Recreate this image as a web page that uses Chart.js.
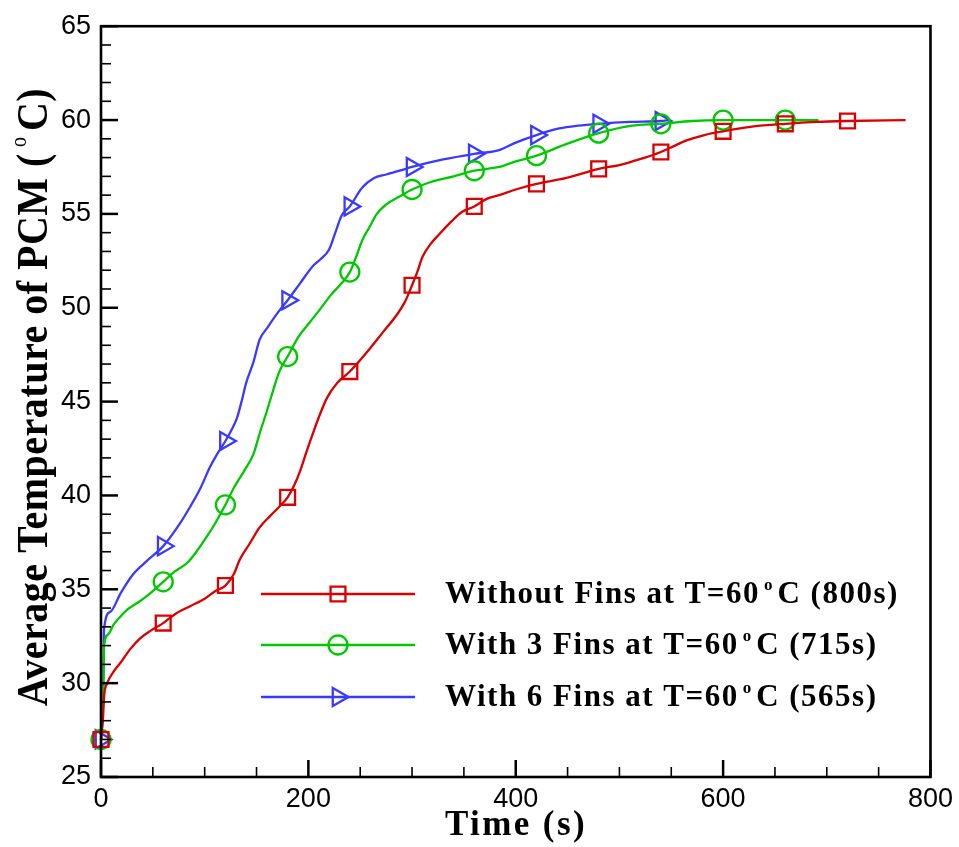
<!DOCTYPE html>
<html>
<head>
<meta charset="utf-8">
<title>Average Temperature of PCM</title>
<script src="https://cdn.jsdelivr.net/npm/chart.js@4.4.1/dist/chart.umd.min.js"></script>
<style>
  html, body { margin: 0; padding: 0; background: #ffffff; }
  #wrap { width: 959px; height: 847px; }
  canvas { display: block; }
</style>
</head>
<body>
<div id="wrap"><canvas id="chart" width="959" height="847" style="width:959px;height:847px"></canvas></div>
<script>
// Average PCM temperature (deg C) against time (s), one curve per fin layout.
const timeNoFins = [0, 2, 3, 6, 12, 19, 28, 38, 48, 60, 72, 86, 100, 110, 120, 128, 134, 143, 153, 163, 172, 180,
  186, 192, 198, 205, 211, 218, 228, 240, 256, 272, 285, 293, 300, 305, 310, 318, 326, 338, 348, 360, 372, 384,
  400, 420, 448, 480, 500, 519, 540, 552, 564, 582, 600, 628, 660, 690, 720, 776];
const tempNoFins = [27, 28.2, 29.3, 30.0, 30.6, 31.1, 31.8, 32.4, 32.8, 33.2, 33.7, 34.1, 34.5, 34.9, 35.2, 35.8,
  36.6, 37.4, 38.3, 38.9, 39.4, 39.9, 40.5, 41.3, 42.3, 43.4, 44.3, 45.2, 46.0, 46.6, 47.6, 48.7, 49.6, 50.3, 51.2,
  51.9, 52.7, 53.4, 53.9, 54.6, 55.1, 55.4, 55.8, 56.0, 56.3, 56.6, 56.9, 57.4, 57.6, 57.9, 58.3, 58.6, 58.9, 59.2,
  59.4, 59.65, 59.8, 59.9, 59.95, 60];

const time3Fins = [0, 2, 3, 7, 12, 18, 25, 33, 41, 50, 60, 70, 83, 92, 102, 111, 120, 128, 138, 147, 153, 160, 166,
  172, 180, 191, 201, 211, 222, 232, 240, 246, 252, 259, 266, 275, 287, 300, 318, 340, 360, 384, 400, 420, 448, 480,
  512, 540, 570, 600, 660, 692];
const temp3Fins = [27, 29.0, 32.0, 32.6, 33.1, 33.5, 33.9, 34.2, 34.5, 34.9, 35.4, 35.9, 36.4, 37.0, 37.8, 38.6, 39.5,
  40.4, 41.3, 42.2, 43.3, 44.5, 45.6, 46.6, 47.4, 48.5, 49.2, 49.9, 50.7, 51.3, 51.9, 52.7, 53.6, 54.3, 55.0, 55.5,
  55.9, 56.3, 56.7, 57.0, 57.3, 57.5, 57.8, 58.1, 58.7, 59.3, 59.7, 59.8, 59.95, 60, 60, 60];

const time6Fins = [0, 2, 3, 9, 19, 31, 44, 60, 76, 86, 96, 105, 112, 120, 126, 131, 136, 140, 147, 153, 160, 170, 180,
  192, 204, 212, 220, 226, 232, 240, 252, 263, 275, 288, 300, 330, 360, 384, 400, 420, 442, 460, 480, 510, 540, 548];
const temp6Fins = [27, 29.0, 32.9, 33.8, 34.8, 35.8, 36.5, 37.3, 38.5, 39.4, 40.4, 41.5, 42.2, 42.9, 43.5, 44.1, 45.1,
  46.0, 47.1, 48.3, 48.9, 49.7, 50.4, 51.3, 52.2, 52.6, 53.1, 54.0, 54.9, 55.4, 56.4, 56.9, 57.1, 57.3, 57.5, 57.9,
  58.2, 58.4, 58.8, 59.2, 59.55, 59.7, 59.8, 59.9, 59.95, 60];

const seriesNames = ['Without Fins at T=60', 'With 3 Fins at T=60', 'With 6 Fins at T=60'];
const seriesTimes = ['C (800s)', 'C (715s)', 'C (565s)'];
const xTicks = [0, 200, 400, 600, 800];
const yTicks = [25, 30, 35, 40, 45, 50, 55, 60, 65];
const markerInterval = 60;

const colors = ['#d80000', '#00c800', '#3a3aff'];
const markers = [
  { style: 'rect', radius: 10.5, rotation: 0 },
  { style: 'circle', radius: 9.5, rotation: 0 },
  { style: 'triangle', radius: 10.5, rotation: 90 }
];

const toPoints = (t, v) => t.map((x, i) => ({ x, y: v[i] }));
const curves = [toPoints(timeNoFins, tempNoFins), toPoints(time3Fins, temp3Fins), toPoints(time6Fins, temp6Fins)];

const datasets = curves.map((pts, i) => ({
  label: seriesNames[i] + ' ' + seriesTimes[i],
  data: pts,
  borderColor: colors[i],
  borderWidth: 2.3,
  fill: false,
  cubicInterpolationMode: 'monotone',
  pointStyle: markers[i].style,
  pointRotation: markers[i].rotation,
  pointRadius: (c) => (c.raw && c.raw.x % markerInterval === 0 ? markers[i].radius : 0),
  pointHoverRadius: (c) => (c.raw && c.raw.x % markerInterval === 0 ? markers[i].radius : 0),
  pointBorderWidth: 2.3,
  pointBorderColor: colors[i],
  pointBackgroundColor: 'rgba(0,0,0,0)',
  clip: false
}));

// Draws a run of text pieces left to right; each piece may set its own font and raise.
function drawRun(ctx, pieces, x, baseline) {
  let cx = x;
  for (const p of pieces) {
    ctx.font = p.font;
    ctx.letterSpacing = p.spacing || '0px';
    cx += p.gap || 0;
    ctx.fillText(p.text, cx, baseline - (p.raise || 0));
    cx += ctx.measureText(p.text).width;
  }
  return cx - x;
}
function runWidth(ctx, pieces) {
  let w = 0;
  for (const p of pieces) {
    ctx.font = p.font;
    ctx.letterSpacing = p.spacing || '0px';
    w += (p.gap || 0) + ctx.measureText(p.text).width;
  }
  return w;
}

function drawMarker(ctx, m, x, y) {
  if (Chart.helpers && Chart.helpers.drawPoint) {
    Chart.helpers.drawPoint(ctx, { pointStyle: m.style, radius: m.radius, rotation: m.rotation, borderWidth: 2.3 }, x, y);
  }
}

const framePlugin = {
  id: 'frameTicksLegend',
  afterDraw(chart) {
    const { ctx, chartArea: a, scales: { x, y } } = chart;
    ctx.save();
    ctx.strokeStyle = '#000';
    ctx.fillStyle = '#000';

    // inward ticks on the bottom and left axes
    for (let v = 0; v <= 800; v += 50) {
      const px = x.getPixelForValue(v);
      const major = v % 200 === 0;
      ctx.lineWidth = major ? 2.5 : 1.6;
      ctx.beginPath();
      ctx.moveTo(px, a.bottom);
      ctx.lineTo(px, a.bottom - (major ? 17 : 10));
      ctx.stroke();
    }
    for (let v = 25; v <= 65; v += 1) {
      const py = y.getPixelForValue(v);
      const major = v % 5 === 0;
      ctx.lineWidth = major ? 2.5 : 1.6;
      ctx.beginPath();
      ctx.moveTo(a.left, py);
      ctx.lineTo(a.left + (major ? 17 : 10), py);
      ctx.stroke();
    }

    // plot frame
    ctx.lineWidth = 2.6;
    ctx.strokeRect(a.left, a.top, a.right - a.left, a.bottom - a.top);

    // legend
    const rowY = [594, 645, 697];
    ctx.textAlign = 'left';
    ctx.textBaseline = 'alphabetic';
    for (let i = 0; i < 3; i++) {
      ctx.strokeStyle = colors[i];
      ctx.lineWidth = 2.3;
      ctx.beginPath();
      ctx.moveTo(261, rowY[i]);
      ctx.lineTo(415, rowY[i]);
      ctx.stroke();
      ctx.fillStyle = 'rgba(0,0,0,0)';
      drawMarker(ctx, markers[i], 338, rowY[i]);
      ctx.fillStyle = '#000';
      drawRun(ctx, [
        { text: seriesNames[i], font: 'bold 31px "Liberation Serif"', spacing: '1.5px' },
        { text: 'o', font: 'bold 17px "Liberation Serif"', gap: 4, raise: 13 },
        { text: seriesTimes[i], font: 'bold 31px "Liberation Serif"', spacing: '1.5px', gap: 5 }
      ], 445, rowY[i] + 9);
    }

    // x axis title
    const xt = [{ text: 'Time (s)', font: 'bold 35px "Liberation Serif"', spacing: '2.4px' }];
    drawRun(ctx, xt, 516 - runWidth(ctx, xt) / 2, 835);

    // y axis title, reading upward, glyphs slightly tall
    const yt = [
      { text: 'Average Temperature of PCM (', font: 'bold 40px "Liberation Serif"', spacing: '0.5px' },
      { text: 'o', font: '20px "Liberation Serif"', gap: 6, raise: 19 },
      { text: 'C)', font: 'bold 40px "Liberation Serif"', spacing: '0.5px', gap: 6 }
    ];
    ctx.save();
    ctx.translate(47, 397);
    ctx.rotate(-Math.PI / 2);
    ctx.scale(1, 1.12);
    drawRun(ctx, yt, -runWidth(ctx, yt) / 2, 0);
    ctx.restore();

    ctx.restore();
  }
};

new Chart(document.getElementById('chart'), {
  type: 'line',
  data: { datasets },
  options: {
    responsive: false,
    devicePixelRatio: 1,
    animation: false,
    events: [],
    layout: { padding: { top: 17, right: 26, left: 0, bottom: 0 } },
    plugins: { legend: { display: false }, tooltip: { enabled: false } },
    scales: {
      x: {
        type: 'linear',
        min: 0,
        max: 800,
        afterFit: (s) => { s.height = 70; },
        afterBuildTicks: (s) => { s.ticks = xTicks.map((v) => ({ value: v })); },
        grid: { display: false, drawTicks: false },
        border: { display: false },
        ticks: { autoSkip: false, maxRotation: 0, padding: 6, color: '#000',
                 font: { family: '"Liberation Sans"', size: 27 } }
      },
      y: {
        type: 'linear',
        min: 25,
        max: 65,
        afterFit: (s) => { s.width = 101; },
        afterBuildTicks: (s) => { s.ticks = yTicks.map((v) => ({ value: v })); },
        grid: { display: false, drawTicks: false },
        border: { display: false },
        ticks: { autoSkip: false, padding: 10, color: '#000',
                 font: { family: '"Liberation Sans"', size: 27 } }
      }
    }
  },
  plugins: [framePlugin]
});
</script>
</body>
</html>
